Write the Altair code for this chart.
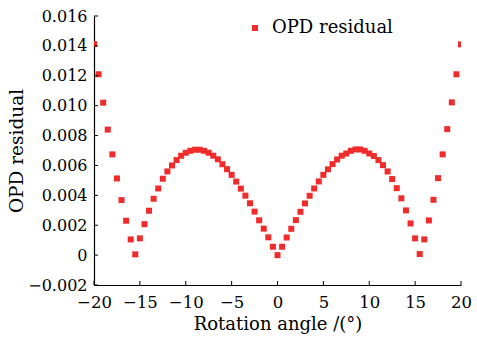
import altair as alt
import pandas as pd

angles = [-20.0, -19.5, -19.0, -18.5, -18.0, -17.5, -17.0, -16.5, -16.0, -15.5,
          -15.0, -14.5, -14.0, -13.5, -13.0, -12.5, -12.0, -11.5, -11.0, -10.5,
          -10.0, -9.5, -9.0, -8.5, -8.0, -7.5, -7.0, -6.5, -6.0, -5.5,
          -5.0, -4.5, -4.0, -3.5, -3.0, -2.5, -2.0, -1.5, -1.0, -0.5,
          0.0, 0.5, 1.0, 1.5, 2.0, 2.5, 3.0, 3.5, 4.0, 4.5,
          5.0, 5.5, 6.0, 6.5, 7.0, 7.5, 8.0, 8.5, 9.0, 9.5,
          10.0, 10.5, 11.0, 11.5, 12.0, 12.5, 13.0, 13.5, 14.0, 14.5,
          15.0, 15.5, 16.0, 16.5, 17.0, 17.5, 18.0, 18.5, 19.0, 19.5, 20.0]

residual = [0.01412, 0.01210, 0.01020, 0.00840, 0.00674, 0.00513, 0.00368, 0.00230, 0.00105, 0.00005,
            0.00112, 0.00207, 0.00297, 0.00377, 0.00446, 0.00511, 0.00560, 0.00600, 0.00636, 0.00665,
            0.00685, 0.00698, 0.00705, 0.00705, 0.00698, 0.00685, 0.00665, 0.00641, 0.00608, 0.00575,
            0.00537, 0.00492, 0.00445, 0.00398, 0.00347, 0.00291, 0.00233, 0.00177, 0.00119, 0.00056,
            0.00000, 0.00056, 0.00118, 0.00176, 0.00234, 0.00290, 0.00346, 0.00397, 0.00446, 0.00493,
            0.00537, 0.00574, 0.00609, 0.00640, 0.00665, 0.00680, 0.00698, 0.00707, 0.00707, 0.00698,
            0.00680, 0.00663, 0.00636, 0.00602, 0.00560, 0.00509, 0.00448, 0.00380, 0.00299, 0.00212,
            0.00112, 0.00007, 0.00105, 0.00232, 0.00370, 0.00515, 0.00674, 0.00843, 0.01022, 0.01210, 0.01410]

x_ticks = [-20, -15, -10, -5, 0, 5, 10, 15, 20]
y_ticks = [-0.002, 0.0, 0.002, 0.004, 0.006, 0.008, 0.010, 0.012, 0.014, 0.016]

series_name = "OPD residual"
FONT = "DejaVu Serif"
RED = "#f02b2b"

W, H = 367, 269

df = pd.DataFrame({"angle": angles, "residual": residual, "series": series_name})
xt = pd.DataFrame({"t": x_ticks})
yt = pd.DataFrame({"t": y_ticks})

xscale = alt.Scale(domain=[-20, 20], nice=False, zero=False)
yscale = alt.Scale(domain=[-0.002, 0.016], nice=False, zero=False)

xaxis = alt.Axis(values=x_ticks, title="Rotation angle /(°)", grid=False,
                 tickSize=0, labelPadding=9, titlePadding=5, labelOverlap=False,
                 labelFont=FONT, labelFontSize=16.5, titleFont=FONT, titleFontSize=18,
                 titleFontWeight="normal", labelColor="black", titleColor="black",
                 domainColor="black", domainWidth=1.2, labelFlush=False)
yaxis = alt.Axis(values=y_ticks, title="OPD residual", grid=False,
                 tickSize=0, labelPadding=7, titlePadding=1, labelOverlap=False,
                 labelExpr="datum.value == 0 ? '0' : format(datum.value, '.3f')",
                 labelFont=FONT, labelFontSize=16, titleFont=FONT, titleFontSize=18.5,
                 titleFontWeight="normal", labelColor="black", titleColor="black",
                 domainColor="black", domainWidth=1.2, labelFlush=False)

points = alt.Chart(df).mark_point(shape="square", filled=True, size=36, opacity=1, clip=True).encode(
    x=alt.X("angle:Q", scale=xscale, axis=xaxis),
    y=alt.Y("residual:Q", scale=yscale, axis=yaxis),
    color=alt.Color("series:N", scale=alt.Scale(domain=[series_name], range=[RED]),
                    legend=alt.Legend(title=None, orient="none", legendX=152, legendY=3,
                                      symbolType="square", symbolSize=36, symbolStrokeWidth=0,
                                      labelFont=FONT, labelFontSize=18, labelColor="black",
                                      labelOffset=8, padding=0)),
)

xtick_rules = alt.Chart(xt).mark_rule(color="black", strokeWidth=1).encode(
    x=alt.X("t:Q", scale=xscale, axis=xaxis),
    y=alt.value(H), y2=alt.value(H - 4),
)
ytick_rules = alt.Chart(yt).mark_rule(color="black", strokeWidth=1).encode(
    y=alt.Y("t:Q", scale=yscale, axis=yaxis),
    x=alt.value(0), x2=alt.value(4),
)

chart = alt.layer(points, xtick_rules, ytick_rules).properties(
    width=W, height=H,
    autosize=alt.AutoSizeParams(type="none"),
    padding={"left": 94, "top": 16, "right": 477 - 94 - W, "bottom": 340 - 16 - H},
    background="white",
).configure_view(stroke=None)

chart.save("out.html", embed_options={"renderer": "svg", "actions": False})
